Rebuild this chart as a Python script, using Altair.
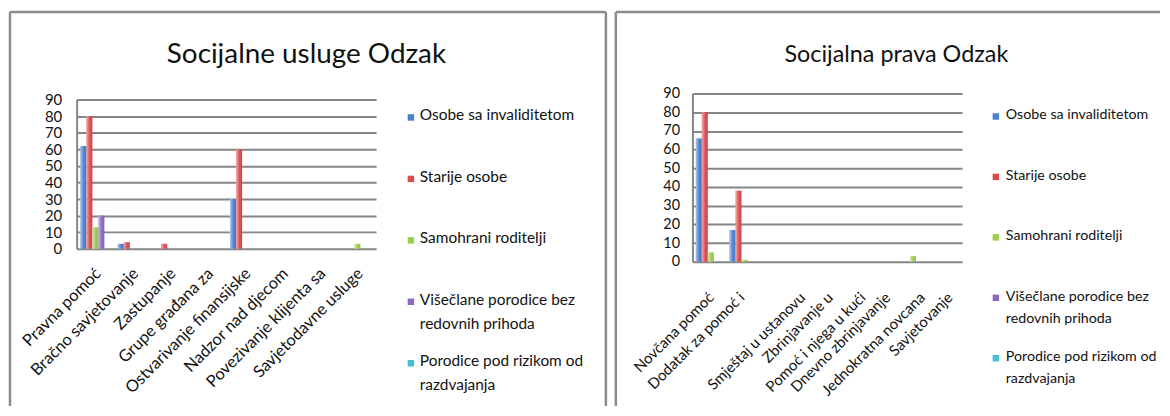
import altair as alt
import pandas as pd

series = ["Osobe sa invaliditetom", "Starije osobe", "Samohrani roditelji",
          "Višečlane porodice bez redovnih prihoda", "Porodice pod rizikom od razdvajanja"]
legend_labels = ["Osobe sa invaliditetom", "Starije osobe", "Samohrani roditelji",
                 "Višečlane porodice bez\nredovnih prihoda", "Porodice pod rizikom od\nrazdvajanja"]
colors = ["#4A7FD0", "#DC4A4E", "#9CCB4E", "#8A69BE", "#45BCD8"]

# Left chart
title_left = "Socijalne usluge Odzak"
cats_left = ["Pravna pomoć", "Bračno savjetovanje", "Zastupanje", "Grupe građana za",
             "Ostvarivanje finansijske", "Nadzor nad djecom", "Povezivanje klijenta sa",
             "Savjetodavne usluge"]
left_invalid = [62, 3, 0, 0, 30, 0, 0, 0]
left_starije = [80, 4, 3, 0, 60, 0, 0, 0]
left_samohrani = [13, 0, 0, 0, 0, 0, 0, 3]
left_viseclane = [20, 0, 0, 0, 0, 0, 0, 0]
left_porodice = [0, 0, 0, 0, 0, 0, 0, 0]

# Right chart
title_right = "Socijalna prava Odzak"
cats_right = ["Novčana pomoć", "Dodatak za pomoć i", "Smještaj u ustanovu", "Zbrinjavanje u",
              "Pomoć i njega u kući", "Dnevno zbrinjavanje", "Jednokratna novcana", "Savjetovanje"]
right_invalid = [66, 17, 0, 0, 0, 0, 0, 0]
right_starije = [80, 38, 0, 0, 0, 0, 0, 0]
right_samohrani = [5, 1, 0, 0, 0, 0, 3, 0]
right_viseclane = [0, 0, 0, 0, 0, 0, 0, 0]
right_porodice = [0, 0, 0, 0, 0, 0, 0, 0]

# label shifts as laid out in the original (pixels along the axis)
right_label_shift = [2, -1, 26, 20, 19, 10, 11, 5]

yticks = list(range(0, 100, 10))
FONT = "Lato"
GRID = "#858585"
BORDER = "#8c8c8c"


def long_df(cats, cols):
    rows = []
    for s, vals in zip(series, cols):
        for c, v in zip(cats, vals):
            rows.append({"cat": c, "series": s, "value": v})
    return pd.DataFrame(rows)


def panel(cats, cols, title, width, height, yrange, label_size, tick_size, xpad, xoff, ypad,
          title_size, title_x, title_y, leg_sym_x, leg_txt_x, leg_range, leg_size, leg_lh,
          border_left, border_right, border_top, border_bottom, draw_right):
    df = long_df(cats, cols)
    color = alt.Color("series:N", scale=alt.Scale(domain=series, range=colors), legend=None)
    base = alt.Chart(df).encode(
        x=alt.X("cat:N", sort=cats,
                scale=alt.Scale(paddingInner=0.2, paddingOuter=0.1),
                axis=alt.Axis(title=None, labelAngle=-45, labelAlign="right",
                              labelBaseline="middle", ticks=False, domain=False,
                              labelPadding=xpad, labelOffset=xoff,
                              labelFontSize=label_size, labelFont=FONT,
                              labelColor="#111111", labelLimit=400)),
        xOffset=alt.XOffset("series:N", sort=series, scale=alt.Scale(domain=series)),
        y=alt.Y("value:Q", scale=alt.Scale(domain=[0, 90], range=yrange, nice=False),
                axis=alt.Axis(title=None, values=yticks, grid=True, gridColor=GRID,
                              gridWidth=2, domainColor=GRID, domainWidth=2, ticks=False,
                              labelPadding=ypad, labelFontSize=tick_size, labelFont=FONT,
                              labelColor="#111111")),
    )
    bars = base.mark_bar().encode(color=color)
    shine = base.mark_bar(color=alt.LinearGradient(
        gradient="linear",
        stops=[alt.GradientStop(color="rgba(255,255,255,0.55)", offset=0),
               alt.GradientStop(color="rgba(255,255,255,0.0)", offset=0.6),
               alt.GradientStop(color="rgba(0,0,0,0.12)", offset=1)],
        x1=0, x2=1, y1=0, y2=0))
    bar_layer = alt.layer(bars, shine)

    one = pd.DataFrame({"k": [0]})
    rules = [
        alt.Chart(one).mark_rule(color=BORDER, strokeWidth=2.5).encode(
            x=alt.value(border_left), x2=alt.value(border_right), y=alt.value(border_top)),
        alt.Chart(one).mark_rule(color=BORDER, strokeWidth=2.5).encode(
            x=alt.value(border_left), y=alt.value(border_top), y2=alt.value(border_bottom)),
    ]
    if draw_right:
        rules.append(alt.Chart(one).mark_rule(color=BORDER, strokeWidth=2.5).encode(
            x=alt.value(border_right), y=alt.value(border_top), y2=alt.value(border_bottom)))

    ttl = alt.Chart(pd.DataFrame({"t": [title]})).mark_text(
        font=FONT, fontSize=title_size, align="center", baseline="alphabetic", color="#111111"
    ).encode(text="t:N", x=alt.value(title_x), y=alt.value(title_y))

    leg_df = pd.DataFrame({"series": series, "label": legend_labels})
    ly = alt.Y("series:N", sort=series,
               scale=alt.Scale(domain=series, range=leg_range, padding=0), axis=None)
    leg_sq = alt.Chart(leg_df).mark_square(size=42, opacity=1).encode(
        x=alt.value(leg_sym_x), y=ly, color=color)
    leg_txt = alt.Chart(leg_df).mark_text(
        font=FONT, fontSize=leg_size, align="left", baseline="top", dy=-round(leg_size * 0.55),
        lineBreak="\n", lineHeight=leg_lh, color="#111111"
    ).encode(x=alt.value(leg_txt_x), y=ly, text="label:N")

    return alt.layer(bar_layer, *rules, ttl, leg_sq, leg_txt).resolve_scale(
        y="independent").properties(width=width, height=height)


right_offset = {
    "condition": [{"test": "datum.value === " + repr(c), "value": s}
                  for c, s in zip(cats_right, right_label_shift)],
    "value": 2,
}

left = panel(cats_left,
             [left_invalid, left_starije, left_samohrani, left_viseclane, left_porodice],
             title_left, 301, 156, [156, 6], 16.5, 15, 22, 3, 15,
             28, 231, -31, 336, 345, [24, 271], 15.5, 24,
             -67, 532, -82, 314, True)
right = panel(cats_right,
              [right_invalid, right_starije, right_samohrani, right_viseclane, right_porodice],
              title_right, 271, 169, [169, 0], 15, 14.5, 33, right_offset, 13,
              23.5, 205, -32, 305, 315, [23, 266], 14.3, 22,
              -77, 470, -82, 314, False)

chart = alt.hconcat(left, right, spacing=6).properties(
    padding={"left": 0, "top": 1, "right": 0, "bottom": 0}
).configure_view(stroke=None)

chart.save("out.html", embed_options={"renderer": "svg", "actions": False})
